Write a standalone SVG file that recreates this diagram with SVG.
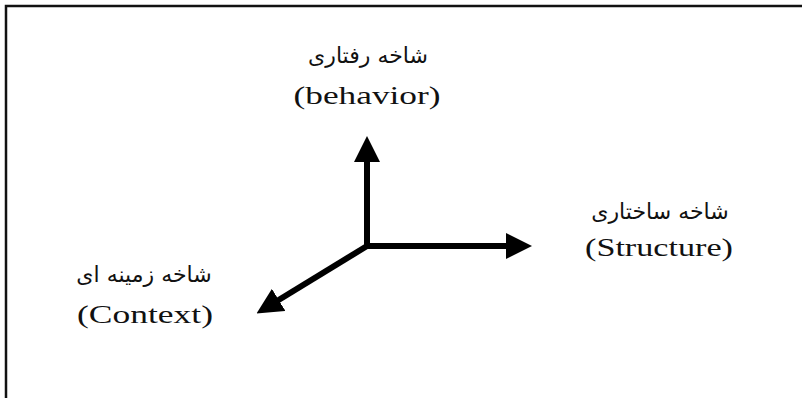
<svg xmlns="http://www.w3.org/2000/svg" width="802" height="398" viewBox="0 0 802 398">
<style>
.fa{font-family:"DejaVu Sans","Noto Sans",sans-serif;font-size:22px;fill:#111;text-anchor:middle;direction:rtl}
.en{font-family:"Liberation Serif","Times New Roman",serif;font-size:26px;fill:#111;text-anchor:middle}
.ax{stroke:#000;stroke-width:6;fill:none}
</style>
<defs>
<marker id="ah" viewBox="0 0 26 26" refX="2" refY="13" markerWidth="26" markerHeight="26" markerUnits="userSpaceOnUse" orient="auto">
<path d="M0,0 L26,13 L0,26 Z" fill="#000"/>
</marker>
</defs>
<rect width="802" height="398" fill="#fff"/>
<path d="M6,398 V6 H802" stroke="#111" stroke-width="2.5" fill="none"/>
<g id="connectors">
<path class="ax" d="M367,246 V160" marker-end="url(#ah)"/>
<path class="ax" d="M367,246 H508" marker-end="url(#ah)"/>
<path class="ax" d="M367,246 L277,301" marker-end="url(#ah)"/>
</g>
<g id="behavior">
<text class="fa" x="368" y="63">شاخه رفتاری</text>
<text class="en" x="367" y="104" textLength="147" lengthAdjust="spacingAndGlyphs">(behavior)</text>
</g>
<g id="structure">
<text class="fa" x="660" y="219">شاخه ساختاری</text>
<text class="en" x="659" y="256" textLength="148" lengthAdjust="spacingAndGlyphs">(Structure)</text>
</g>
<g id="context">
<text class="fa" x="144" y="282">شاخه زمینه ای</text>
<text class="en" x="145" y="323" textLength="136" lengthAdjust="spacingAndGlyphs">(Context)</text>
</g>
</svg>
